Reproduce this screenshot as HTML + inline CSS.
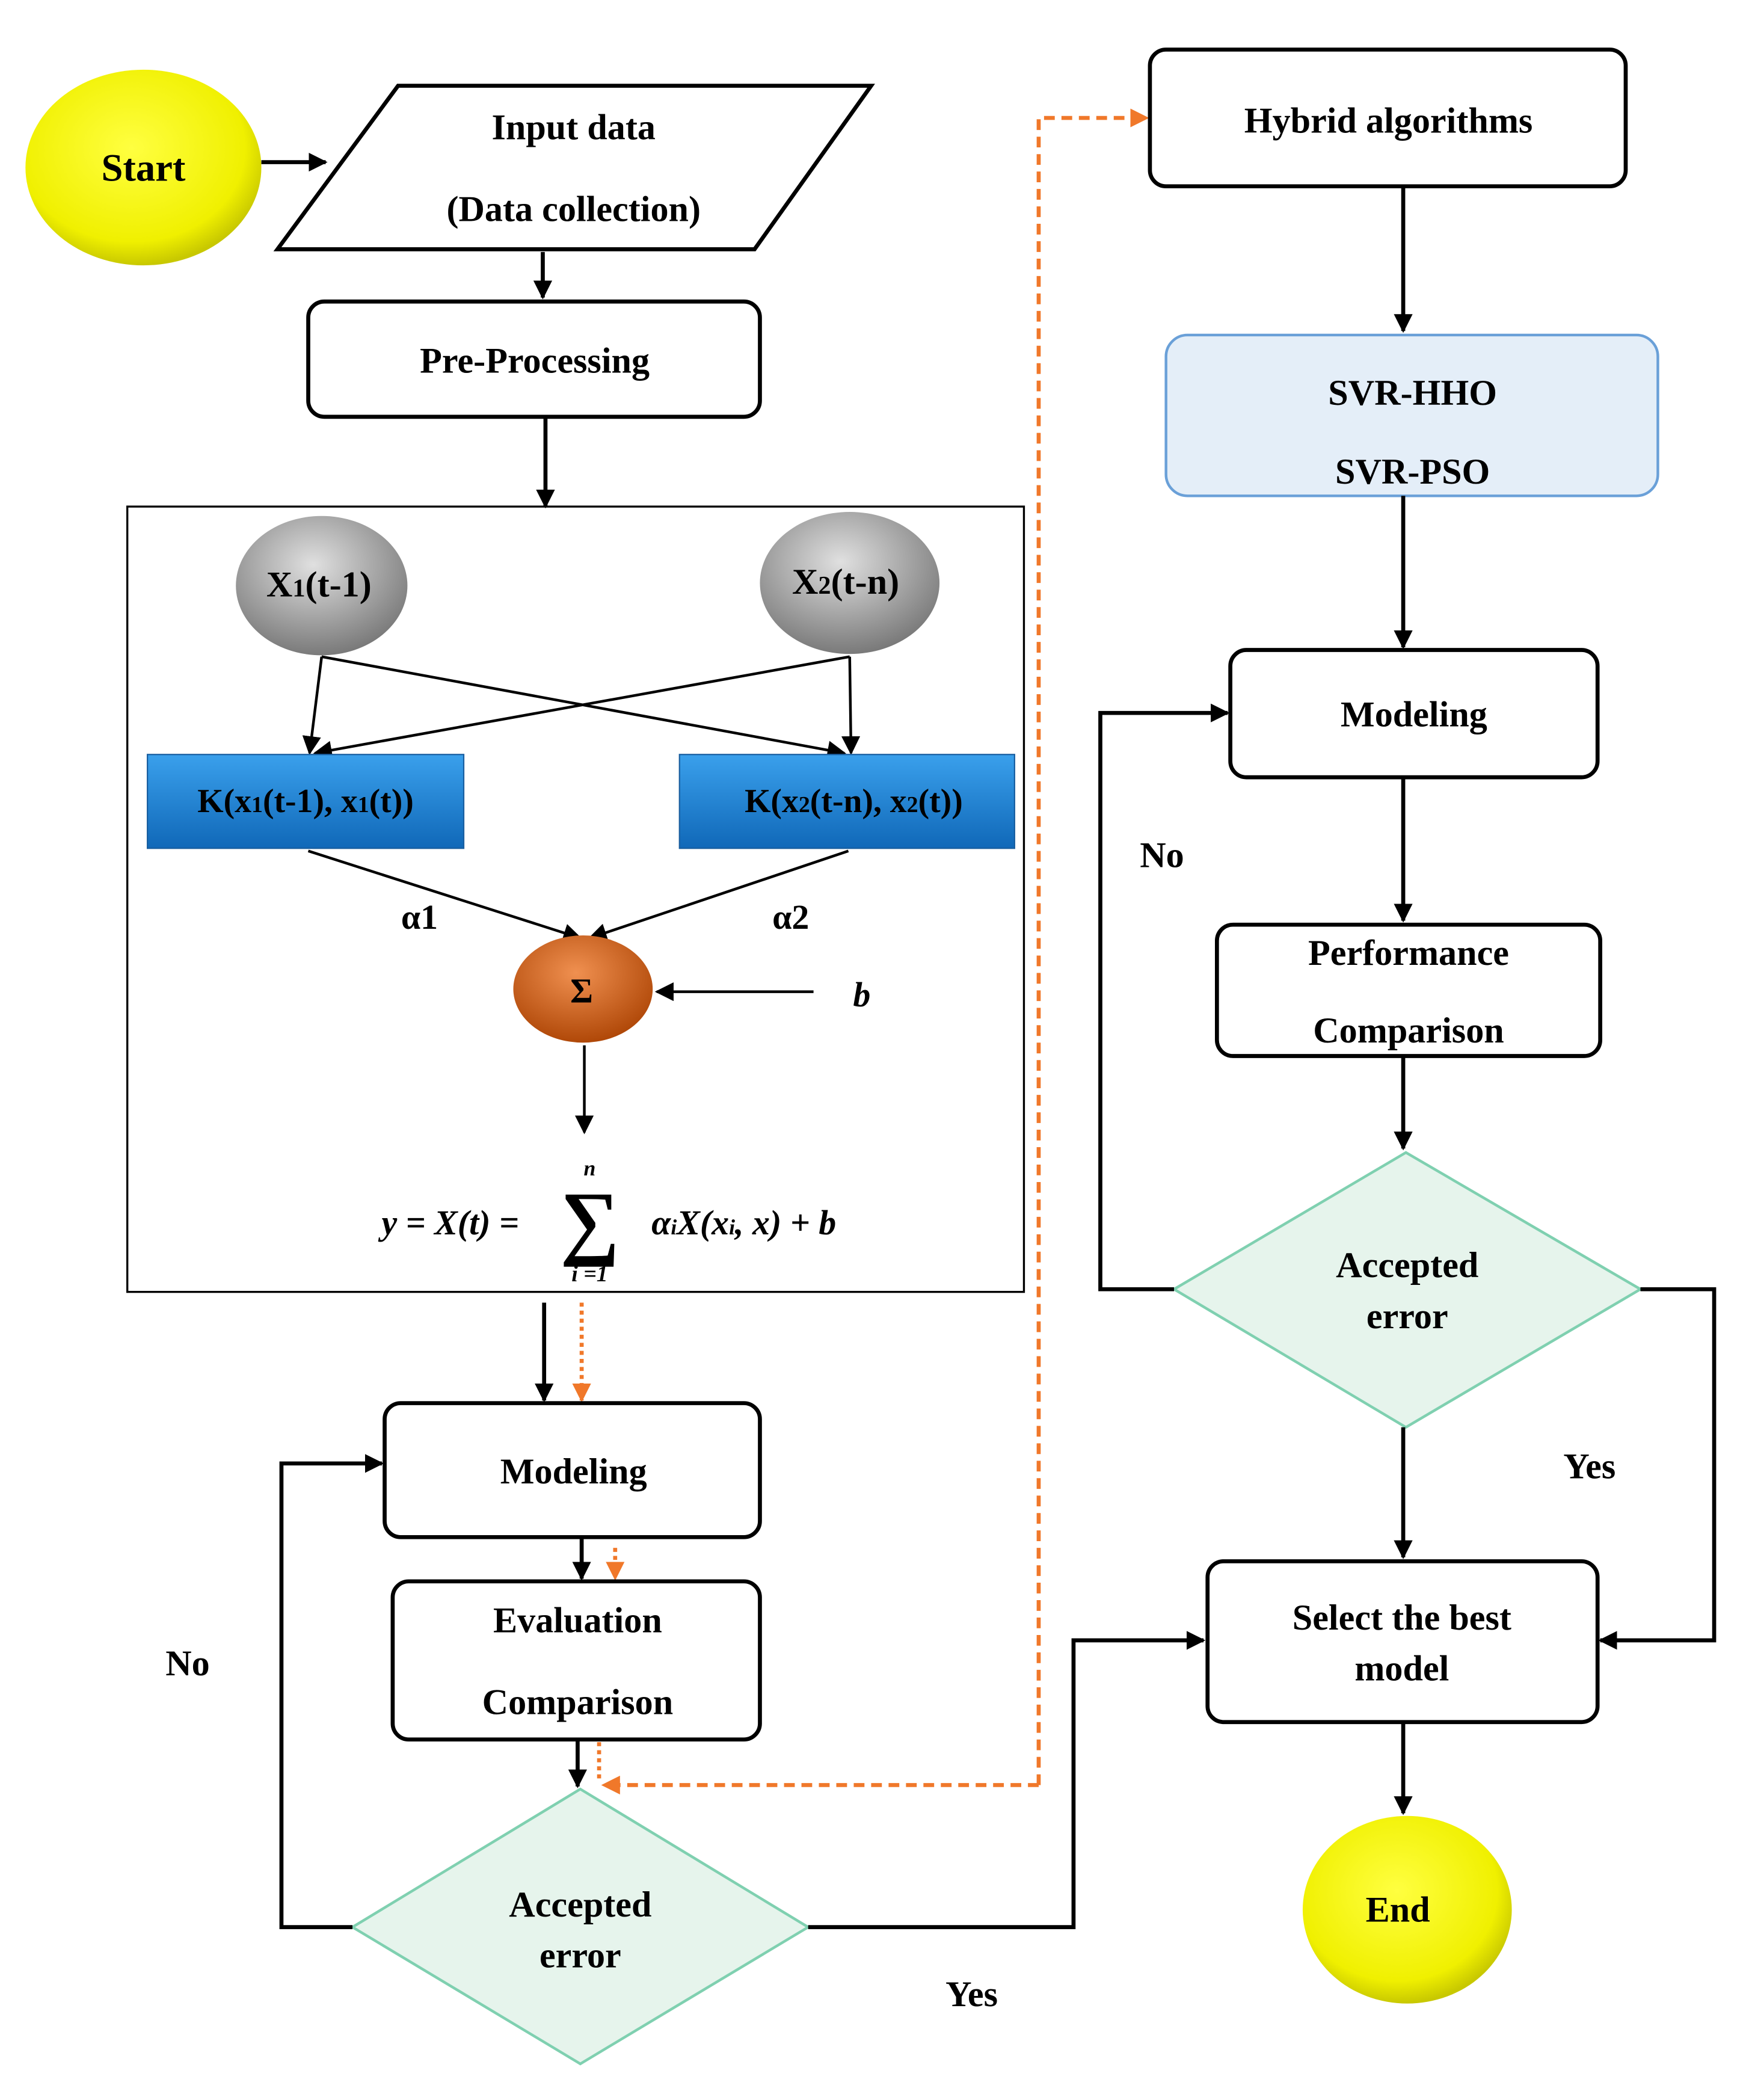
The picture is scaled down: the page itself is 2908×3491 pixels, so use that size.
<!DOCTYPE html>
<html><head><meta charset="utf-8"><style>
html,body{margin:0;padding:0;background:#fff}
svg{display:block}
text{font-family:"Liberation Serif",serif;font-weight:bold;fill:#000}
</style></head><body>
<svg width="2908" height="3491" viewBox="0 0 1305 1567" preserveAspectRatio="none" xmlns="http://www.w3.org/2000/svg">
<defs>
<marker id="ak" viewBox="0 0 10 10" refX="9" refY="5" markerWidth="14" markerHeight="14" orient="auto" markerUnits="userSpaceOnUse"><path d="M0,0L10,5L0,10z" fill="#000"/></marker>
<marker id="ao" viewBox="0 0 10 10" refX="9" refY="5" markerWidth="14" markerHeight="14" orient="auto" markerUnits="userSpaceOnUse"><path d="M0,0L10,5L0,10z" fill="#f0782a"/></marker>
<radialGradient id="y" cx="45%" cy="40%" r="60%"><stop offset="0" stop-color="#ffff40"/><stop offset="0.8" stop-color="#f0f000"/><stop offset="1" stop-color="#c8c800"/></radialGradient>
<radialGradient id="g" cx="45%" cy="35%" r="65%"><stop offset="0" stop-color="#e0e0e0"/><stop offset="1" stop-color="#7a7a7a"/></radialGradient>
<radialGradient id="o" cx="45%" cy="35%" r="65%"><stop offset="0" stop-color="#f09050"/><stop offset="1" stop-color="#b04808"/></radialGradient>
<linearGradient id="b" x1="0" y1="0" x2="0" y2="1"><stop offset="0" stop-color="#3aa0ec"/><stop offset="1" stop-color="#1068b8"/></linearGradient>
</defs>
<g stroke="#000" stroke-width="3" fill="none">
<ellipse cx="107" cy="125" rx="88" ry="73" fill="url(#y)" stroke="none"/>
<line x1="195" y1="121" x2="243" y2="121" marker-end="url(#ak)"/>
<polygon points="297,64 650,64 563,186 207,186" fill="#fff"/>
<line x1="405" y1="188" x2="405" y2="222" marker-end="url(#ak)"/>
<rect x="230" y="225" width="337" height="86" rx="12" fill="#fff"/>
<line x1="407" y1="311" x2="407" y2="378" marker-end="url(#ak)"/>
<rect x="95" y="378" width="669" height="586" stroke-width="1.5"/>
<ellipse cx="240" cy="437" rx="64" ry="52" fill="url(#g)" stroke="none"/>
<ellipse cx="634" cy="435" rx="67" ry="53" fill="url(#g)" stroke="none"/>
<g stroke-width="2">
<line x1="240" y1="490" x2="231" y2="562" marker-end="url(#ak)"/>
<line x1="240" y1="490" x2="630" y2="562" marker-end="url(#ak)"/>
<line x1="634" y1="490" x2="635" y2="562" marker-end="url(#ak)"/>
<line x1="634" y1="490" x2="235" y2="562" marker-end="url(#ak)"/>
<line x1="230" y1="635" x2="433" y2="700" marker-end="url(#ak)"/>
<line x1="633" y1="635" x2="440" y2="700" marker-end="url(#ak)"/>
<line x1="607" y1="740" x2="490" y2="740" marker-end="url(#ak)"/>
<line x1="436" y1="780" x2="436" y2="845" marker-end="url(#ak)"/>
</g>
<rect x="110" y="563" width="236" height="70" fill="url(#b)" stroke="#1a5fa0" stroke-width="1"/>
<rect x="507" y="563" width="250" height="70" fill="url(#b)" stroke="#1a5fa0" stroke-width="1"/>
<ellipse cx="435" cy="738" rx="52" ry="40" fill="url(#o)" stroke="none"/>
<line x1="406" y1="972" x2="406" y2="1045" marker-end="url(#ak)"/>
<line x1="434" y1="972" x2="434" y2="1045" stroke="#f0782a" stroke-dasharray="3,3" marker-end="url(#ao)"/>
<rect x="287" y="1047" width="280" height="100" rx="12" fill="#fff"/>
<line x1="434" y1="1147" x2="434" y2="1178" marker-end="url(#ak)"/>
<line x1="459" y1="1155" x2="459" y2="1178" stroke="#f0782a" stroke-dasharray="3,3" marker-end="url(#ao)"/>
<rect x="293" y="1180" width="274" height="118" rx="12" fill="#fff"/>
<line x1="431" y1="1298" x2="431" y2="1333" marker-end="url(#ak)"/>
<polygon points="433,1335 603,1438 433,1540 263,1438" fill="#e6f4ec" stroke="#7fd0b0" stroke-width="2"/>
<polyline points="263,1438 210,1438 210,1092 285,1092" marker-end="url(#ak)"/>
<polyline points="603,1438 801,1438 801,1224 898,1224" marker-end="url(#ak)"/>
<polyline points="775,1332 775,88 856,88" stroke="#f0782a" stroke-dasharray="8,5" marker-end="url(#ao)"/>
<polyline points="775,1332 450,1332" stroke="#f0782a" stroke-dasharray="8,5" marker-end="url(#ao)"/>
<line x1="447" y1="1300" x2="447" y2="1330" stroke="#f0782a" stroke-dasharray="3,3"/>
<rect x="858" y="37" width="355" height="102" rx="12" fill="#fff"/>
<line x1="1047" y1="139" x2="1047" y2="247" marker-end="url(#ak)"/>
<rect x="870" y="250" width="367" height="120" rx="16" fill="#e4eef8" stroke="#6aa0d8" stroke-width="2"/>
<line x1="1047" y1="370" x2="1047" y2="483" marker-end="url(#ak)"/>
<rect x="918" y="485" width="274" height="95" rx="12" fill="#fff"/>
<line x1="1047" y1="580" x2="1047" y2="687" marker-end="url(#ak)"/>
<rect x="908" y="690" width="286" height="98" rx="12" fill="#fff"/>
<line x1="1047" y1="788" x2="1047" y2="857" marker-end="url(#ak)"/>
<polygon points="1049,860 1224,962 1049,1065 876,962" fill="#e6f4ec" stroke="#7fd0b0" stroke-width="2"/>
<polyline points="876,962 821,962 821,532 916,532" marker-end="url(#ak)"/>
<polyline points="1224,962 1279,962 1279,1224 1194,1224" marker-end="url(#ak)"/>
<line x1="1047" y1="1065" x2="1047" y2="1162" marker-end="url(#ak)"/>
<rect x="901" y="1165" width="291" height="120" rx="12" fill="#fff"/>
<line x1="1047" y1="1285" x2="1047" y2="1353" marker-end="url(#ak)"/>
<ellipse cx="1050" cy="1425" rx="78" ry="70" fill="url(#y)" stroke="none"/>
</g>
<g font-size="27" text-anchor="middle">
<text x="107" y="135" font-size="29">Start</text>
<text x="428" y="104">Input data</text>
<text x="428" y="165">(Data collection)</text>
<text x="399" y="278">Pre-Processing</text>
<text x="238" y="445">X<tspan font-size="19">1</tspan>(t-1)</text>
<text x="631" y="443">X<tspan font-size="19">2</tspan>(t-n)</text>
<text x="228" y="606" font-size="25">K(x<tspan font-size="17">1</tspan>(t-1), x<tspan font-size="17">1</tspan>(t))</text>
<text x="637" y="606" font-size="25">K(x<tspan font-size="17">2</tspan>(t-n), x<tspan font-size="17">2</tspan>(t))</text>
<text x="313" y="693" font-weight="normal" font-size="26">α1</text>
<text x="590" y="693" font-weight="normal" font-size="26">α2</text>
<text x="434" y="748" font-weight="normal" font-size="26">Σ</text>
<text x="643" y="751" font-style="italic" font-weight="normal" font-size="26">b</text>
<text x="336" y="921" font-style="italic" font-size="26">y = X(t) =</text>
<text x="440" y="932" font-weight="normal" font-size="62">∑</text>
<text x="440" y="877" font-style="italic" font-size="16">n</text>
<text x="440" y="956" font-style="italic" font-size="17">i =1</text>
<text x="555" y="921" font-style="italic" font-size="26">α<tspan font-size="16">i</tspan>X(x<tspan font-size="16">i</tspan>, x) + b</text>
<text x="428" y="1107">Modeling</text>
<text x="431" y="1218">Evaluation</text>
<text x="431" y="1279">Comparison</text>
<text x="433" y="1430">Accepted</text>
<text x="433" y="1468">error</text>
<text x="140" y="1250">No</text>
<text x="725" y="1497">Yes</text>
<text x="1036" y="99">Hybrid algorithms</text>
<text x="1054" y="302">SVR-HHO</text>
<text x="1054" y="361">SVR-PSO</text>
<text x="1055" y="542">Modeling</text>
<text x="1051" y="720">Performance</text>
<text x="1051" y="778">Comparison</text>
<text x="1050" y="953">Accepted</text>
<text x="1050" y="991">error</text>
<text x="867" y="647">No</text>
<text x="1186" y="1103">Yes</text>
<text x="1046" y="1216">Select the best</text>
<text x="1046" y="1254">model</text>
<text x="1043" y="1434">End</text>
</g>
</svg>
</body></html>
